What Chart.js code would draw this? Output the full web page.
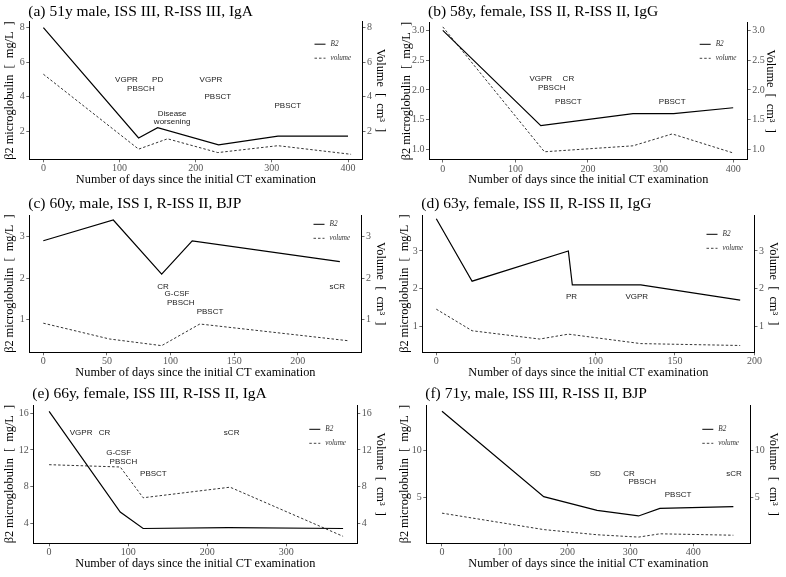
<!DOCTYPE html>
<html>
<head>
<meta charset="utf-8">
<script src="https://cdn.jsdelivr.net/npm/chart.js@4.4.1/dist/chart.umd.min.js"></script>
<style>
  html, body { margin:0; padding:0; background:#fff; }
  #fig { position:relative; width:786px; height:577px; overflow:hidden; }
  #fig canvas { position:absolute; }
</style>
</head>
<body>
<div id="fig">
  <canvas id="chartA" width="393" height="190" style="left:0;top:0"></canvas>
  <canvas id="chartB" width="393" height="190" style="left:393px;top:0"></canvas>
  <canvas id="chartC" width="393" height="195" style="left:0;top:190px"></canvas>
  <canvas id="chartD" width="393" height="195" style="left:393px;top:190px"></canvas>
  <canvas id="chartE" width="393" height="192" style="left:0;top:385px"></canvas>
  <canvas id="chartF" width="393" height="192" style="left:393px;top:385px"></canvas>
</div>
<script>
// ---- Data (days since first CT, β2 in mg/L, volume in cm3) ----
const aB2Days  = [0, 125, 150, 230, 308, 400];
const aB2      = [8.0, 1.6, 2.2, 1.2, 1.7, 1.7];
const aVolDays = [0, 125, 163, 229, 308, 404];
const aVol     = [5.3, 0.95, 1.55, 0.75, 1.15, 0.65];
const aNotes   = ['VGPR', 'PBSCH', 'PD', 'Disease\nworsening', 'VGPR', 'PBSCT', 'PBSCT'];
const aNoteX   = [109, 128, 150, 169, 220, 229, 321];
const aNoteY   = [4.96, 4.48, 4.96, 2.77, 4.96, 3.99, 3.47];
const aXTicks  = [0, 100, 200, 300, 400];
const aYTicks  = [2, 4, 6, 8];

const bB2Days  = [0, 135, 262, 318, 400];
const bB2      = [3.0, 1.4, 1.6, 1.6, 1.7];
const bVolDays = [0, 140, 262, 316, 400];
const bVol     = [3.06, 0.96, 1.06, 1.26, 0.94];
const bNotes   = ['VGPR', 'CR', 'PBSCH', 'PBSCT', 'PBSCT'];
const bNoteX   = [135, 173, 150, 173, 316];
const bNoteY   = [2.19, 2.19, 2.04, 1.8, 1.8];
const bXTicks  = [0, 100, 200, 300, 400];
const bYTicks  = [1.0, 1.5, 2.0, 2.5, 3.0];

const cB2Days  = [0, 55, 93, 117, 233];
const cB2      = [2.9, 3.4, 2.1, 2.9, 2.4];
const cVolDays = [0, 52, 93, 123, 239];
const cVol     = [0.92, 0.54, 0.38, 0.9, 0.5];
const cNotes   = ['CR', 'G-CSF', 'PBSCH', 'PBSCT', 'sCR'];
const cNoteX   = [94, 105, 108, 131, 231];
const cNoteY   = [1.8, 1.62, 1.42, 1.2, 1.8];
const cXTicks  = [0, 50, 100, 150, 200];
const cYTicks  = [1, 2, 3];

const dB2Days  = [0, 22.5, 83, 85.5, 128.5, 191];
const dB2      = [3.85, 2.2, 3.0, 2.1, 2.1, 1.7];
const dVolDays = [0, 22.5, 65, 83, 128.5, 191];
const dVol     = [1.46, 0.89, 0.67, 0.8, 0.55, 0.5];
const dNotes   = ['PR', 'VGPR'];
const dNoteX   = [85, 126];
const dNoteY   = [1.78, 1.78];
const dXTicks  = [0, 50, 100, 150, 200];
const dYTicks  = [1, 2, 3];

const eB2Days  = [0, 90, 119, 227, 372];
const eB2      = [16.2, 5.25, 3.45, 3.55, 3.45];
const eVolDays = [0, 90, 119, 229, 372];
const eVol     = [10.4, 10.15, 6.8, 7.95, 2.6];
const eNotes   = ['VGPR', 'CR', 'G-CSF', 'PBSCH', 'PBSCT', 'sCR'];
const eNoteX   = [40.5, 70, 88, 94, 132, 231];
const eNoteY   = [13.9, 13.9, 11.7, 10.7, 9.45, 13.9];
const eXTicks  = [0, 100, 200, 300];
const eYTicks  = [4, 8, 12, 16];

const fB2Days  = [0, 162, 247, 313, 347, 464];
const fB2      = [14.2, 5.1, 3.65, 3.05, 3.85, 4.05];
const fVolDays = [0, 162, 247, 313, 347, 464];
const fVol     = [3.35, 1.6, 1.05, 0.8, 1.15, 1.0];
const fNotes   = ['SD', 'CR', 'PBSCH', 'PBSCT', 'sCR'];
const fNoteX   = [244, 298, 319, 376, 465];
const fNoteY   = [7.55, 7.55, 6.7, 5.25, 7.55];
const fXTicks  = [0, 100, 200, 300, 400];
const fYTicks  = [5, 10];

// ---- Fonts ----
const SERIF = '"Liberation Serif", "Times New Roman", serif';
const SANS = '"Liberation Sans", Arial, sans-serif';

// ---- Title, stage notes and legend drawn inside each panel ----
const panelDecor = {
  id: 'panelDecor',
  afterDatasetsDraw(chart, args, o) {
    const { ctx, chartArea: ca, scales: { x, y } } = chart;
    ctx.save();
    ctx.fillStyle = '#000';
    ctx.textBaseline = 'middle';
    ctx.textAlign = 'left';
    ctx.font = '15.5px ' + SERIF;
    ctx.fillText(o.title, ca.left - 1, ca.top - o.titleDy);

    // stage notes (CR, PBSCT...) at their day / value
    ctx.font = '8px ' + SANS;
    ctx.fillStyle = '#1a1a1a';
    ctx.textAlign = 'center';
    o.notes.forEach((t, i) => {
      const px = x.getPixelForValue(o.noteX[i]);
      const py = y.getPixelForValue(o.noteY[i]);
      const lines = t.split('\n');
      lines.forEach((l, k) => ctx.fillText(l, px, py + (k - (lines.length - 1) / 2) * 8.5));
    });

    // legend
    ctx.font = 'italic 7.2px ' + SERIF;
    ctx.textAlign = 'left';
    ctx.fillStyle = '#333';
    [['B2', []], ['volume', [2.5, 2]]].forEach(([lab, dash], i) => {
      const ly = ca.top + o.legendY + i * 14;
      ctx.beginPath();
      ctx.setLineDash(dash);
      ctx.lineWidth = 1;
      ctx.strokeStyle = i ? '#444' : '#000';
      ctx.moveTo(ca.right - 48, ly);
      ctx.lineTo(ca.right - 37, ly);
      ctx.stroke();
      ctx.fillText(lab, ca.right - 32, ly);
    });
    ctx.restore();
  }
};

const pts = (xs, ys) => xs.map((d, i) => ({ x: d, y: ys[i] }));

function buildPanel(id, p) {
  const canvas = document.getElementById(id);
  const W = canvas.width, H = canvas.height;
  const tickStyle = { font: { family: SERIF, size: 10 }, color: '#555', maxRotation: 0 };
  const grid = { drawOnChartArea: false, drawTicks: true, tickLength: 3, color: '#444', lineWidth: 0.8 };
  const border = { display: true, color: '#000', width: 1 };
  const titleFont = { family: SERIF, size: 12.3 };
  const yAxis = (pos, width, pad, text) => ({
    type: 'linear', position: pos, min: p.yRange[0], max: p.yRange[1],
    afterBuildTicks: s => { s.ticks = p.yTicks.map(v => ({ value: v })); },
    afterFit: s => { s.width = width; },
    grid, border,
    ticks: { ...tickStyle, padding: 1.5, callback: v => v.toFixed(p.yDec) },
    title: { display: true, text, font: titleFont, color: '#000', padding: { top: pad, bottom: 0 } }
  });

  return new Chart(canvas, {
    type: 'line',
    data: {
      datasets: [
        { label: 'B2', data: pts(p.b2Days, p.b2), yAxisID: 'y',
          borderColor: '#000', borderWidth: 1.2, pointRadius: 0, tension: 0 },
        { label: 'volume', data: pts(p.volDays, p.vol), yAxisID: 'y2',
          borderColor: '#333', borderWidth: 1, borderDash: [2.5, 2], pointRadius: 0, tension: 0 }
      ]
    },
    options: {
      responsive: false,
      animation: false,
      events: [],
      layout: { padding: { top: p.box.top, left: 0, right: 0, bottom: 0 } },
      plugins: {
        legend: { display: false },
        tooltip: { enabled: false },
        panelDecor: { title: p.title, titleDy: p.titleDy, notes: p.notes, noteX: p.noteX, noteY: p.noteY, legendY: p.legendY }
      },
      scales: {
        x: {
          type: 'linear', min: p.xRange[0], max: p.xRange[1],
          afterBuildTicks: s => { s.ticks = p.xTicks.map(v => ({ value: v })); },
          afterFit: s => { s.height = H - p.box.bottom; },
          grid, border,
          ticks: { ...tickStyle, padding: 0.5 },
          title: { display: true, text: 'Number of days since the initial CT examination',
                   font: titleFont, color: '#000', padding: { top: 0, bottom: p.xTitlePad } }
        },
        y: yAxis('left', p.box.left, p.yTitlePad, 'β2 microglobulin  [  mg/L  ]'),
        y2: yAxis('right', W - p.box.right, p.y2TitlePad, 'Volume  [  cm³  ]')
      }
    },
    plugins: [panelDecor]
  });
}

buildPanel('chartA', {
  title: '(a) 51y male, ISS III, R-ISS III, IgA', titleDy: 10,
  b2Days: aB2Days, b2: aB2, volDays: aVolDays, vol: aVol,
  notes: aNotes, noteX: aNoteX, noteY: aNoteY, xTicks: aXTicks, yTicks: aYTicks, yDec: 0,
  xRange: [-18.5, 419], yRange: [0.36, 8.35],
  box: { left: 29.3, right: 362.5, top: 21.7, bottom: 159.3 },
  xTitlePad: 2.6, yTitlePad: 2.6, y2TitlePad: 5.6, legendY: 22.5
});
buildPanel('chartB', {
  title: '(b) 58y, female, ISS II, R-ISS II, IgG', titleDy: 10.5,
  b2Days: bB2Days, b2: bB2, volDays: bVolDays, vol: bVol,
  notes: bNotes, noteX: bNoteX, noteY: bNoteY, xTicks: bXTicks, yTicks: bYTicks, yDec: 1,
  xRange: [-19, 420], yRange: [0.83, 3.13],
  box: { left: 36, right: 354.7, top: 22.7, bottom: 159.5 },
  xTitlePad: 2.6, yTitlePad: 5.9, y2TitlePad: 8.6, legendY: 21.6
});
buildPanel('chartC', {
  title: '(c) 60y, male, ISS I, R-ISS II, BJP', titleDy: 11.5,
  b2Days: cB2Days, b2: cB2, volDays: cVolDays, vol: cVol,
  notes: cNotes, noteX: cNoteX, noteY: cNoteY, xTicks: cXTicks, yTicks: cYTicks, yDec: 0,
  xRange: [-11, 250], yRange: [0.22, 3.52],
  box: { left: 29.3, right: 361.5, top: 25, bottom: 162.3 },
  xTitlePad: 4.9, yTitlePad: 2.6, y2TitlePad: 5.6, legendY: 9.3
});
buildPanel('chartD', {
  title: '(d) 63y, female, ISS II, R-ISS II, IgG', titleDy: 11.5,
  b2Days: dB2Days, b2: dB2, volDays: dVolDays, vol: dVol,
  notes: dNotes, noteX: dNoteX, noteY: dNoteY, xTicks: dXTicks, yTicks: dYTicks, yDec: 0,
  xRange: [-8.8, 200], yRange: [0.32, 3.95],
  box: { left: 29.3, right: 361.5, top: 25, bottom: 162.3 },
  xTitlePad: 4.9, yTitlePad: 4.3, y2TitlePad: 5.6, legendY: 19.3
});
buildPanel('chartE', {
  title: '(e) 66y, female, ISS III, R-ISS II, IgA', titleDy: 11.5,
  b2Days: eB2Days, b2: eB2, volDays: eVolDays, vol: eVol,
  notes: eNotes, noteX: eNoteX, noteY: eNoteY, xTicks: eXTicks, yTicks: eYTicks, yDec: 0,
  xRange: [-20, 390], yRange: [1.84, 16.9],
  box: { left: 33.3, right: 357.3, top: 20, bottom: 158.3 },
  xTitlePad: 6.3, yTitlePad: 2.6, y2TitlePad: 5.6, legendY: 24.3
});
buildPanel('chartF', {
  title: '(f) 71y, male, ISS III, R-ISS II, BJP', titleDy: 11.5,
  b2Days: fB2Days, b2: fB2, volDays: fVolDays, vol: fVol,
  notes: fNotes, noteX: fNoteX, noteY: fNoteY, xTicks: fXTicks, yTicks: fYTicks, yDec: 0,
  xRange: [-25, 491], yRange: [0.14, 14.86],
  box: { left: 33.3, right: 357.3, top: 20, bottom: 158.3 },
  xTitlePad: 6.3, yTitlePad: 4.3, y2TitlePad: 5.6, legendY: 24.3
});
</script>
</body>
</html>
